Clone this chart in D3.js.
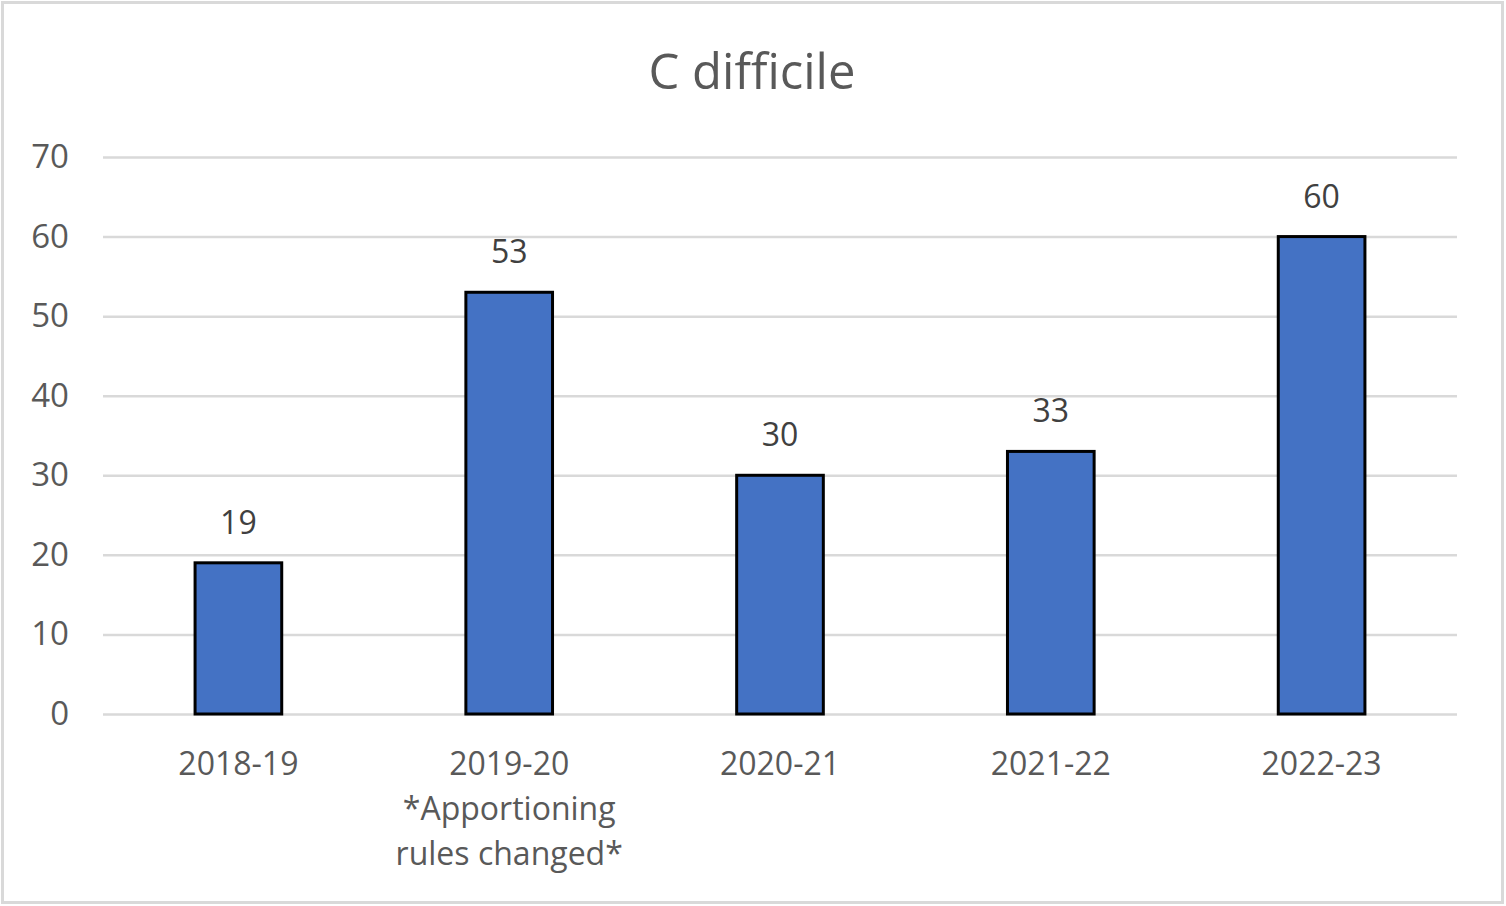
<!DOCTYPE html>
<html><head><meta charset="utf-8">
<script src="https://cdn.jsdelivr.net/npm/d3@7"></script>
<style>body{margin:0;background:#fff}svg{display:block}</style>
</head><body><svg id="c" width="1506" height="906"></svg>
<script>
const categories = ["2018-19", "2019-20\n*Apportioning\nrules changed*", "2020-21", "2021-22", "2022-23"];
const values = [19, 53, 30, 33, 60];
const yTicks = [0, 10, 20, 30, 40, 50, 60, 70];
const title = "C difficile";

const svg = d3.select("#c");
const font = "'Open Sans', 'Noto Sans', sans-serif";
const textColor = "#595959";
svg.append("rect").attr("x", 2.5).attr("y", 2.5).attr("width", 1500).attr("height", 900)
  .attr("fill", "#fff").attr("stroke", "#d9d9d9").attr("stroke-width", 3);

const L = 103, R = 1457, T = 157, B = 714;
const x = d3.scaleBand().domain(categories).range([L, R]).paddingInner(0.68).paddingOuter(0.34);
const y = d3.scaleLinear().domain([0, 70]).range([B, T]);

svg.append("text").attr("x", 752).attr("y", 89).attr("text-anchor", "middle")
  .attr("font-family", font).attr("font-size", 49).attr("fill", textColor).text(title);

const yAxis = d3.axisLeft(y).tickValues(yTicks).tickSize(-(R - L)).tickPadding(34);
const gy = svg.append("g").attr("transform", `translate(${L},0)`).call(yAxis);
gy.select(".domain").remove();
gy.selectAll(".tick line").attr("stroke", "#d9d9d9").attr("stroke-width", 2.5);
gy.selectAll(".tick text").attr("font-family", font).attr("font-size", 33).attr("fill", textColor);

const xAxis = d3.axisBottom(x).tickSize(0).tickFormat(() => "");
const gx = svg.append("g").attr("transform", `translate(0,${B})`).call(xAxis);
gx.select(".domain").remove();
gx.selectAll(".tick").each(function(d) {
  const lines = d.split("\n");
  const t = d3.select(this).append("text").attr("text-anchor", "middle")
    .attr("font-family", font).attr("font-size", 32).attr("fill", textColor);
  lines.forEach((ln, i) => t.append("tspan").attr("x", 0).attr("y", 61 + i * 45).text(ln));
});

svg.append("g").selectAll("rect").data(values).join("rect")
  .attr("x", (d, i) => x(categories[i]))
  .attr("y", d => y(d))
  .attr("width", x.bandwidth())
  .attr("height", d => y(0) - y(d))
  .attr("fill", "#4472C4").attr("stroke", "#000").attr("stroke-width", 3);

svg.append("g").selectAll("text").data(values).join("text")
  .attr("x", (d, i) => x(categories[i]) + x.bandwidth() / 2)
  .attr("y", d => y(d) - 29)
  .attr("text-anchor", "middle").attr("font-family", font).attr("font-size", 32)
  .attr("fill", "#404040").text(d => d);
</script></body></html>
